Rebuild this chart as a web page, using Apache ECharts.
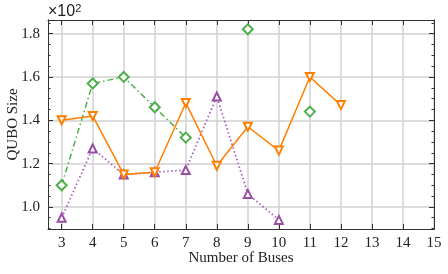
<!DOCTYPE html>
<html><head><meta charset="utf-8">
<script src="https://cdn.jsdelivr.net/npm/echarts@6/dist/echarts.min.js"></script>
<style>html,body{margin:0;padding:0;background:#fff}#c{width:448px;height:274px}</style>
</head><body><div id="c"></div>
<script>
const buses = [3,4,5,6,7,8,9,10,11,12];
const orangeVals = [1.40,1.42,1.15,1.16,1.48,1.19,1.37,1.26,1.60,1.47];
const greenVals  = [1.10,1.57,1.60,1.46,1.32,null,1.82,null,1.44,null];
const purpleVals = [0.95,1.27,1.15,1.16,1.17,1.51,1.06,0.94,null,null];
const xTicks = [3,4,5,6,7,8,9,10,11,12,13,14,15];
const yTicks = [1.0,1.2,1.4,1.6,1.8];
const yMinorTicks = [0.9,0.95,1.05,1.1,1.15,1.25,1.3,1.35,1.45,1.5,1.55,1.65,1.7,1.75,1.85];

const pairs = v => buses.map((b,i)=>[b, v[i]]);
const font = "'Liberation Serif', 'DejaVu Serif', serif";
const chart = echarts.init(document.getElementById('c'), null, {renderer:'canvas'});
const YMIN = 0.898, YMAX = 1.863, XMIN = 2.56, XMAX = 15;
const line = {show:true,onZero:false,lineStyle:{color:'#333',width:1}};
const tick = (vals,len) => ({show:true,inside:true,length:len,lineStyle:{color:'#333'},customValues:vals});
const hiddenY = (pos, vals, len) => ({type:'value',min:YMIN,max:YMAX,position:pos,axisLine:line,
  axisTick:tick(vals,len),axisLabel:{show:false},splitLine:{show:false}});
chart.setOption({
  animation:false,
  textStyle:{fontFamily:font},
  grid:{left:48,right:14,top:20,bottom:45,outerBoundsMode:'none',containLabel:false},
  xAxis:[{
    type:'value', min:XMIN, max:XMAX,
    axisLine:line, axisTick:tick(xTicks,5),
    axisLabel:{color:'#222',fontSize:15,fontFamily:font,margin:7,customValues:xTicks},
    splitLine:{show:true,lineStyle:{color:'#d0d0d0',width:1.5}},
    name:'Number of Buses', nameLocation:'middle', nameGap:22, nameMoveOverlap:false,
    nameTextStyle:{color:'#222',fontSize:15,fontFamily:font}
  },{
    type:'value', min:XMIN, max:XMAX, position:'top',
    axisLine:line, axisTick:tick(xTicks,5),
    axisLabel:{show:false}, splitLine:{show:false}
  }],
  yAxis:[{
    type:'value', min:YMIN, max:YMAX,
    axisLine:line, axisTick:tick(yTicks,5),
    axisLabel:{color:'#222',fontSize:15,fontFamily:font,margin:8,customValues:yTicks,
      formatter:v=>v.toFixed(1)},
    splitLine:{show:true,lineStyle:{color:'#d0d0d0',width:1.5}},
    name:'QUBO Size', nameLocation:'middle', nameGap:27, nameMoveOverlap:false,
    nameTextStyle:{color:'#222',fontSize:15,fontFamily:font}
  },
  hiddenY('right', yTicks, 5),
  hiddenY('left', yMinorTicks, 2.5),
  hiddenY('right', yMinorTicks, 2.5)
  ],
  graphic:[{type:'text',x:48,y:3,z:100,style:{
    text:'×10{s|2}',font:'16px Liberation Serif',fontSize:16,fill:'#222',
    rich:{s:{fontSize:11,verticalAlign:'top',padding:[0,0,6,0]}}}}],
  series:[
    {type:'line',data:pairs(greenVals),connectNulls:false,symbol:'emptyDiamond',symbolSize:10,
     itemStyle:{color:'#4daf4a',borderWidth:1.2},lineStyle:{color:'#4daf4a',width:1.5,type:[6,3,1.5,3]},z:3},
    {type:'line',data:pairs(purpleVals),symbol:'emptyTriangle',symbolSize:8,
     itemStyle:{color:'#984ea3',borderWidth:1.2},lineStyle:{color:'#a65fbf',width:1.8,type:[1.5,2.5]},z:2},
    {type:'line',data:pairs(orangeVals),symbol:'emptyTriangle',symbolRotate:180,symbolSize:8,
     itemStyle:{color:'#ff7f00',borderWidth:1.2},lineStyle:{color:'#ff7f00',width:1.5},z:4}
  ]
});
</script></body></html>
